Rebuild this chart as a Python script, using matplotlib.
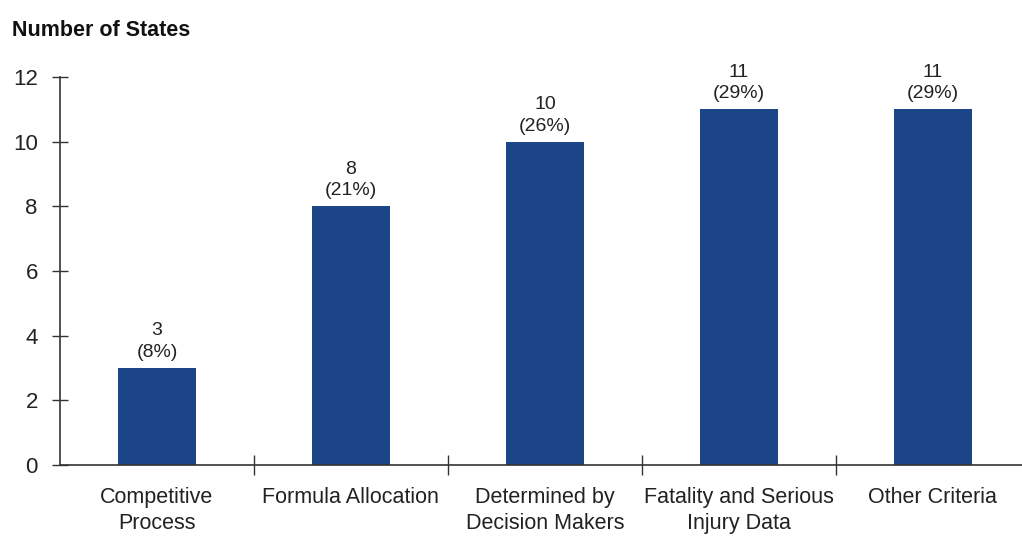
import matplotlib.pyplot as plt

# -------- DATA --------
categories = ["Competitive\nProcess", "Formula Allocation", "Determined by\nDecision Makers",
              "Fatality and Serious\nInjury Data", "Other Criteria"]
counts = [3, 8, 10, 11, 11]
percents = [8, 21, 26, 29, 29]
yticks = [0, 2, 4, 6, 8, 10, 12]

BAR_COLOR = "#1b4586"

plt.rcParams['font.family'] = ['Liberation Sans', 'DejaVu Sans']

fig = plt.figure(figsize=(10.22, 5.40), dpi=100)
ax = fig.add_axes([60 / 1022, 1 - 465 / 540, 1 - 60 / 1022, (465 - 77) / 540])

x = list(range(len(categories)))
ax.bar(x, counts, width=0.4, color=BAR_COLOR, zorder=2)

for xi, c, p in zip(x, counts, percents):
    ax.text(xi, c + 0.22, f"{c}\n({p}%)", ha='center', va='bottom',
            fontsize=14, color='#222222', linespacing=1.35)

ax.set_xlim(-0.5, 4.46)
ax.set_ylim(0, 12)
ax.set_yticks(yticks)
ax.tick_params(axis='y', direction='inout', length=12, width=1, labelsize=16,
               colors='#333333', pad=10)
ax.tick_params(axis='y', labelcolor='#222222')

# category labels at centres, separator ticks at boundaries
ax.set_xticks(x)
ax.set_xticklabels(categories, fontsize=15.5, color='#222222', linespacing=1.3)
ax.tick_params(axis='x', which='major', length=0, pad=16)
ax.set_xticks([i + 0.5 for i in x[:-1]], minor=True)
ax.tick_params(axis='x', which='minor', direction='inout', length=14, width=1, colors='#333333')

for side in ['top', 'right']:
    ax.spines[side].set_visible(False)
for side in ['left', 'bottom']:
    ax.spines[side].set_color('#333333')
    ax.spines[side].set_linewidth(1.2)

fig.text(12 / 1022, 1 - 30 / 540, "Number of States", fontsize=15.5, fontweight='bold',
         ha='left', va='center', color='#111111')

plt.savefig("out.png", dpi=100)
plt.close()
